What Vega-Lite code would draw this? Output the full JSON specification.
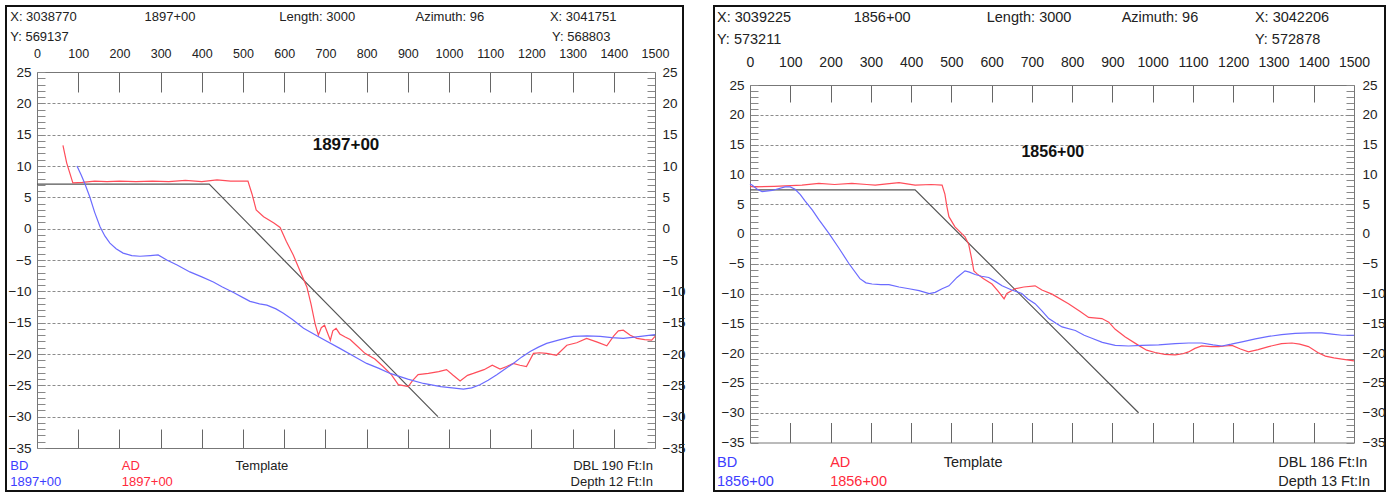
{
"$schema": "https://vega.github.io/schema/vega-lite/v6.json",
"padding": {"left": 5, "top": 5, "right": 0, "bottom": 0},
"background": "white",
"spacing": 27,
"datasets": {
"profiles": [
{"panel":"1897+00","series":"Template","x":0,"y":7.1},{"panel":"1897+00","series":"Template","x":418,"y":7.1},{"panel":"1897+00","series":"Template","x":973,"y":-30},
{"panel":"1897+00","series":"AD","x":63,"y":13.3},{"panel":"1897+00","series":"AD","x":72,"y":10.5},{"panel":"1897+00","series":"AD","x":87,"y":7.3},{"panel":"1897+00","series":"AD","x":110,"y":7.4},{"panel":"1897+00","series":"AD","x":140,"y":7.6},{"panel":"1897+00","series":"AD","x":170,"y":7.5},{"panel":"1897+00","series":"AD","x":200,"y":7.6},{"panel":"1897+00","series":"AD","x":240,"y":7.5},{"panel":"1897+00","series":"AD","x":280,"y":7.6},{"panel":"1897+00","series":"AD","x":320,"y":7.5},{"panel":"1897+00","series":"AD","x":360,"y":7.7},{"panel":"1897+00","series":"AD","x":400,"y":7.5},{"panel":"1897+00","series":"AD","x":437,"y":7.8},{"panel":"1897+00","series":"AD","x":470,"y":7.6},{"panel":"1897+00","series":"AD","x":512,"y":7.6},{"panel":"1897+00","series":"AD","x":522,"y":5.5},{"panel":"1897+00","series":"AD","x":532,"y":3.0},{"panel":"1897+00","series":"AD","x":550,"y":1.9},{"panel":"1897+00","series":"AD","x":575,"y":0.9},{"panel":"1897+00","series":"AD","x":590,"y":0.2},{"panel":"1897+00","series":"AD","x":605,"y":-2.0},{"panel":"1897+00","series":"AD","x":622,"y":-4.2},{"panel":"1897+00","series":"AD","x":640,"y":-7.0},{"panel":"1897+00","series":"AD","x":655,"y":-9.3},{"panel":"1897+00","series":"AD","x":665,"y":-12.0},{"panel":"1897+00","series":"AD","x":675,"y":-15.2},{"panel":"1897+00","series":"AD","x":683,"y":-17.0},{"panel":"1897+00","series":"AD","x":690,"y":-15.8},{"panel":"1897+00","series":"AD","x":698,"y":-15.4},{"panel":"1897+00","series":"AD","x":705,"y":-16.6},{"panel":"1897+00","series":"AD","x":712,"y":-17.8},{"panel":"1897+00","series":"AD","x":718,"y":-16.3},{"panel":"1897+00","series":"AD","x":726,"y":-15.9},{"panel":"1897+00","series":"AD","x":735,"y":-16.8},{"panel":"1897+00","series":"AD","x":748,"y":-17.3},{"panel":"1897+00","series":"AD","x":760,"y":-17.7},{"panel":"1897+00","series":"AD","x":775,"y":-18.6},{"panel":"1897+00","series":"AD","x":796,"y":-19.9},{"panel":"1897+00","series":"AD","x":820,"y":-20.8},{"panel":"1897+00","series":"AD","x":840,"y":-22.0},{"panel":"1897+00","series":"AD","x":860,"y":-23.3},{"panel":"1897+00","series":"AD","x":877,"y":-24.9},{"panel":"1897+00","series":"AD","x":901,"y":-25.2},{"panel":"1897+00","series":"AD","x":912,"y":-24.2},{"panel":"1897+00","series":"AD","x":925,"y":-23.3},{"panel":"1897+00","series":"AD","x":950,"y":-23.1},{"panel":"1897+00","series":"AD","x":975,"y":-22.8},{"panel":"1897+00","series":"AD","x":994,"y":-22.5},{"panel":"1897+00","series":"AD","x":1010,"y":-23.4},{"panel":"1897+00","series":"AD","x":1027,"y":-24.3},{"panel":"1897+00","series":"AD","x":1045,"y":-23.4},{"panel":"1897+00","series":"AD","x":1059,"y":-23.1},{"panel":"1897+00","series":"AD","x":1085,"y":-22.5},{"panel":"1897+00","series":"AD","x":1105,"y":-21.8},{"panel":"1897+00","series":"AD","x":1124,"y":-22.4},{"panel":"1897+00","series":"AD","x":1140,"y":-22.0},{"panel":"1897+00","series":"AD","x":1156,"y":-21.5},{"panel":"1897+00","series":"AD","x":1172,"y":-21.8},{"panel":"1897+00","series":"AD","x":1188,"y":-22.0},{"panel":"1897+00","series":"AD","x":1205,"y":-19.9},{"panel":"1897+00","series":"AD","x":1220,"y":-19.8},{"panel":"1897+00","series":"AD","x":1237,"y":-19.9},{"panel":"1897+00","series":"AD","x":1261,"y":-20.2},{"panel":"1897+00","series":"AD","x":1286,"y":-18.6},{"panel":"1897+00","series":"AD","x":1310,"y":-18.2},{"panel":"1897+00","series":"AD","x":1334,"y":-17.5},{"panel":"1897+00","series":"AD","x":1360,"y":-18.1},{"panel":"1897+00","series":"AD","x":1383,"y":-18.7},{"panel":"1897+00","series":"AD","x":1400,"y":-17.1},{"panel":"1897+00","series":"AD","x":1411,"y":-16.3},{"panel":"1897+00","series":"AD","x":1423,"y":-16.2},{"panel":"1897+00","series":"AD","x":1440,"y":-17.0},{"panel":"1897+00","series":"AD","x":1456,"y":-17.5},{"panel":"1897+00","series":"AD","x":1475,"y":-17.7},{"panel":"1897+00","series":"AD","x":1492,"y":-17.8},{"panel":"1897+00","series":"AD","x":1500,"y":-17.2},
{"panel":"1897+00","series":"BD","x":97,"y":10.0},{"panel":"1897+00","series":"BD","x":107,"y":8.6},{"panel":"1897+00","series":"BD","x":116,"y":7.2},{"panel":"1897+00","series":"BD","x":128,"y":5.1},{"panel":"1897+00","series":"BD","x":140,"y":2.6},{"panel":"1897+00","series":"BD","x":153,"y":0.3},{"panel":"1897+00","series":"BD","x":165,"y":-1.2},{"panel":"1897+00","series":"BD","x":177,"y":-2.3},{"panel":"1897+00","series":"BD","x":192,"y":-3.2},{"panel":"1897+00","series":"BD","x":209,"y":-3.9},{"panel":"1897+00","series":"BD","x":230,"y":-4.3},{"panel":"1897+00","series":"BD","x":250,"y":-4.4},{"panel":"1897+00","series":"BD","x":275,"y":-4.3},{"panel":"1897+00","series":"BD","x":294,"y":-4.2},{"panel":"1897+00","series":"BD","x":315,"y":-5.0},{"panel":"1897+00","series":"BD","x":340,"y":-5.8},{"panel":"1897+00","series":"BD","x":371,"y":-6.9},{"panel":"1897+00","series":"BD","x":400,"y":-7.7},{"panel":"1897+00","series":"BD","x":428,"y":-8.5},{"panel":"1897+00","series":"BD","x":450,"y":-9.3},{"panel":"1897+00","series":"BD","x":477,"y":-10.2},{"panel":"1897+00","series":"BD","x":500,"y":-11.0},{"panel":"1897+00","series":"BD","x":517,"y":-11.6},{"panel":"1897+00","series":"BD","x":540,"y":-12.0},{"panel":"1897+00","series":"BD","x":558,"y":-12.2},{"panel":"1897+00","series":"BD","x":580,"y":-12.8},{"panel":"1897+00","series":"BD","x":598,"y":-13.5},{"panel":"1897+00","series":"BD","x":620,"y":-14.5},{"panel":"1897+00","series":"BD","x":647,"y":-15.9},{"panel":"1897+00","series":"BD","x":690,"y":-17.5},{"panel":"1897+00","series":"BD","x":735,"y":-19.1},{"panel":"1897+00","series":"BD","x":770,"y":-20.4},{"panel":"1897+00","series":"BD","x":800,"y":-21.5},{"panel":"1897+00","series":"BD","x":830,"y":-22.3},{"panel":"1897+00","series":"BD","x":857,"y":-23.1},{"panel":"1897+00","series":"BD","x":900,"y":-24.0},{"panel":"1897+00","series":"BD","x":938,"y":-24.7},{"panel":"1897+00","series":"BD","x":980,"y":-25.2},{"panel":"1897+00","series":"BD","x":1035,"y":-25.6},{"panel":"1897+00","series":"BD","x":1055,"y":-25.4},{"panel":"1897+00","series":"BD","x":1075,"y":-24.9},{"panel":"1897+00","series":"BD","x":1095,"y":-24.2},{"panel":"1897+00","series":"BD","x":1116,"y":-23.3},{"panel":"1897+00","series":"BD","x":1136,"y":-22.4},{"panel":"1897+00","series":"BD","x":1156,"y":-21.5},{"panel":"1897+00","series":"BD","x":1176,"y":-20.5},{"panel":"1897+00","series":"BD","x":1197,"y":-19.6},{"panel":"1897+00","series":"BD","x":1217,"y":-18.9},{"panel":"1897+00","series":"BD","x":1237,"y":-18.3},{"panel":"1897+00","series":"BD","x":1270,"y":-17.7},{"panel":"1897+00","series":"BD","x":1302,"y":-17.2},{"panel":"1897+00","series":"BD","x":1335,"y":-17.1},{"panel":"1897+00","series":"BD","x":1367,"y":-17.2},{"panel":"1897+00","series":"BD","x":1395,"y":-17.4},{"panel":"1897+00","series":"BD","x":1423,"y":-17.5},{"panel":"1897+00","series":"BD","x":1450,"y":-17.3},{"panel":"1897+00","series":"BD","x":1475,"y":-17.1},{"panel":"1897+00","series":"BD","x":1500,"y":-16.9},
{"panel":"1856+00","series":"Template","x":0,"y":7.4},{"panel":"1856+00","series":"Template","x":410,"y":7.4},{"panel":"1856+00","series":"Template","x":965,"y":-30},
{"panel":"1856+00","series":"AD","x":0,"y":8.0},{"panel":"1856+00","series":"AD","x":10,"y":7.9},{"panel":"1856+00","series":"AD","x":60,"y":8.0},{"panel":"1856+00","series":"AD","x":129,"y":8.2},{"panel":"1856+00","series":"AD","x":171,"y":8.5},{"panel":"1856+00","series":"AD","x":210,"y":8.3},{"panel":"1856+00","series":"AD","x":253,"y":8.5},{"panel":"1856+00","series":"AD","x":290,"y":8.3},{"panel":"1856+00","series":"AD","x":311,"y":8.2},{"panel":"1856+00","series":"AD","x":340,"y":8.4},{"panel":"1856+00","series":"AD","x":370,"y":8.6},{"panel":"1856+00","series":"AD","x":410,"y":8.2},{"panel":"1856+00","series":"AD","x":450,"y":8.3},{"panel":"1856+00","series":"AD","x":477,"y":8.2},{"panel":"1856+00","series":"AD","x":484,"y":6.7},{"panel":"1856+00","series":"AD","x":489,"y":4.6},{"panel":"1856+00","series":"AD","x":494,"y":2.9},{"panel":"1856+00","series":"AD","x":509,"y":1.2},{"panel":"1856+00","series":"AD","x":534,"y":-0.5},{"panel":"1856+00","series":"AD","x":543,"y":-1.7},{"panel":"1856+00","series":"AD","x":550,"y":-4.0},{"panel":"1856+00","series":"AD","x":556,"y":-6.2},{"panel":"1856+00","series":"AD","x":564,"y":-6.7},{"panel":"1856+00","series":"AD","x":580,"y":-7.5},{"panel":"1856+00","series":"AD","x":601,"y":-8.4},{"panel":"1856+00","series":"AD","x":615,"y":-9.5},{"panel":"1856+00","series":"AD","x":631,"y":-10.9},{"panel":"1856+00","series":"AD","x":638,"y":-10.0},{"panel":"1856+00","series":"AD","x":658,"y":-9.2},{"panel":"1856+00","series":"AD","x":680,"y":-8.9},{"panel":"1856+00","series":"AD","x":708,"y":-8.7},{"panel":"1856+00","series":"AD","x":725,"y":-9.4},{"panel":"1856+00","series":"AD","x":750,"y":-10.1},{"panel":"1856+00","series":"AD","x":791,"y":-11.7},{"panel":"1856+00","series":"AD","x":820,"y":-13.0},{"panel":"1856+00","series":"AD","x":841,"y":-14.0},{"panel":"1856+00","series":"AD","x":874,"y":-14.2},{"panel":"1856+00","series":"AD","x":891,"y":-14.8},{"panel":"1856+00","series":"AD","x":907,"y":-16.0},{"panel":"1856+00","series":"AD","x":932,"y":-17.3},{"panel":"1856+00","series":"AD","x":965,"y":-18.7},{"panel":"1856+00","series":"AD","x":985,"y":-19.5},{"panel":"1856+00","series":"AD","x":1006,"y":-19.9},{"panel":"1856+00","series":"AD","x":1030,"y":-20.2},{"panel":"1856+00","series":"AD","x":1056,"y":-20.3},{"panel":"1856+00","series":"AD","x":1075,"y":-20.1},{"panel":"1856+00","series":"AD","x":1089,"y":-19.8},{"panel":"1856+00","series":"AD","x":1105,"y":-19.2},{"panel":"1856+00","series":"AD","x":1122,"y":-18.8},{"panel":"1856+00","series":"AD","x":1145,"y":-18.9},{"panel":"1856+00","series":"AD","x":1164,"y":-18.9},{"panel":"1856+00","series":"AD","x":1180,"y":-18.8},{"panel":"1856+00","series":"AD","x":1197,"y":-18.7},{"panel":"1856+00","series":"AD","x":1218,"y":-19.3},{"panel":"1856+00","series":"AD","x":1238,"y":-19.8},{"panel":"1856+00","series":"AD","x":1262,"y":-19.4},{"panel":"1856+00","series":"AD","x":1288,"y":-18.9},{"panel":"1856+00","series":"AD","x":1320,"y":-18.4},{"panel":"1856+00","series":"AD","x":1346,"y":-18.3},{"panel":"1856+00","series":"AD","x":1365,"y":-18.5},{"panel":"1856+00","series":"AD","x":1387,"y":-18.9},{"panel":"1856+00","series":"AD","x":1410,"y":-19.9},{"panel":"1856+00","series":"AD","x":1429,"y":-20.5},{"panel":"1856+00","series":"AD","x":1450,"y":-20.8},{"panel":"1856+00","series":"AD","x":1470,"y":-21.0},{"panel":"1856+00","series":"AD","x":1500,"y":-21.3},
{"panel":"1856+00","series":"BD","x":0,"y":8.4},{"panel":"1856+00","series":"BD","x":5,"y":8.2},{"panel":"1856+00","series":"BD","x":18,"y":7.5},{"panel":"1856+00","series":"BD","x":30,"y":7.1},{"panel":"1856+00","series":"BD","x":55,"y":7.3},{"panel":"1856+00","series":"BD","x":87,"y":7.9},{"panel":"1856+00","series":"BD","x":100,"y":7.9},{"panel":"1856+00","series":"BD","x":112,"y":7.5},{"panel":"1856+00","series":"BD","x":125,"y":6.6},{"panel":"1856+00","series":"BD","x":137,"y":5.5},{"panel":"1856+00","series":"BD","x":155,"y":4.0},{"panel":"1856+00","series":"BD","x":171,"y":2.4},{"panel":"1856+00","series":"BD","x":196,"y":0.1},{"panel":"1856+00","series":"BD","x":221,"y":-2.4},{"panel":"1856+00","series":"BD","x":246,"y":-5.0},{"panel":"1856+00","series":"BD","x":273,"y":-7.5},{"panel":"1856+00","series":"BD","x":288,"y":-8.2},{"panel":"1856+00","series":"BD","x":303,"y":-8.4},{"panel":"1856+00","series":"BD","x":325,"y":-8.5},{"panel":"1856+00","series":"BD","x":345,"y":-8.5},{"panel":"1856+00","series":"BD","x":370,"y":-8.9},{"panel":"1856+00","series":"BD","x":395,"y":-9.2},{"panel":"1856+00","series":"BD","x":420,"y":-9.5},{"panel":"1856+00","series":"BD","x":445,"y":-10.0},{"panel":"1856+00","series":"BD","x":460,"y":-9.8},{"panel":"1856+00","series":"BD","x":477,"y":-9.2},{"panel":"1856+00","series":"BD","x":494,"y":-8.7},{"panel":"1856+00","series":"BD","x":514,"y":-7.3},{"panel":"1856+00","series":"BD","x":534,"y":-6.2},{"panel":"1856+00","series":"BD","x":545,"y":-6.4},{"panel":"1856+00","series":"BD","x":559,"y":-6.8},{"panel":"1856+00","series":"BD","x":575,"y":-7.1},{"panel":"1856+00","series":"BD","x":593,"y":-7.3},{"panel":"1856+00","series":"BD","x":610,"y":-8.0},{"panel":"1856+00","series":"BD","x":626,"y":-8.7},{"panel":"1856+00","series":"BD","x":650,"y":-9.4},{"panel":"1856+00","series":"BD","x":675,"y":-10.0},{"panel":"1856+00","series":"BD","x":690,"y":-10.9},{"panel":"1856+00","series":"BD","x":708,"y":-11.7},{"panel":"1856+00","series":"BD","x":725,"y":-12.9},{"panel":"1856+00","series":"BD","x":742,"y":-14.2},{"panel":"1856+00","series":"BD","x":760,"y":-15.0},{"panel":"1856+00","series":"BD","x":775,"y":-15.6},{"panel":"1856+00","series":"BD","x":808,"y":-16.2},{"panel":"1856+00","series":"BD","x":830,"y":-17.0},{"panel":"1856+00","series":"BD","x":849,"y":-17.5},{"panel":"1856+00","series":"BD","x":875,"y":-18.2},{"panel":"1856+00","series":"BD","x":907,"y":-18.7},{"panel":"1856+00","series":"BD","x":940,"y":-18.8},{"panel":"1856+00","series":"BD","x":973,"y":-18.7},{"panel":"1856+00","series":"BD","x":1015,"y":-18.6},{"panel":"1856+00","series":"BD","x":1056,"y":-18.4},{"panel":"1856+00","series":"BD","x":1090,"y":-18.3},{"panel":"1856+00","series":"BD","x":1122,"y":-18.3},{"panel":"1856+00","series":"BD","x":1150,"y":-18.6},{"panel":"1856+00","series":"BD","x":1172,"y":-18.8},{"panel":"1856+00","series":"BD","x":1195,"y":-18.5},{"panel":"1856+00","series":"BD","x":1222,"y":-18.1},{"panel":"1856+00","series":"BD","x":1255,"y":-17.6},{"panel":"1856+00","series":"BD","x":1288,"y":-17.2},{"panel":"1856+00","series":"BD","x":1320,"y":-16.9},{"panel":"1856+00","series":"BD","x":1354,"y":-16.7},{"panel":"1856+00","series":"BD","x":1390,"y":-16.6},{"panel":"1856+00","series":"BD","x":1420,"y":-16.6},{"panel":"1856+00","series":"BD","x":1445,"y":-16.8},{"panel":"1856+00","series":"BD","x":1470,"y":-17.0},{"panel":"1856+00","series":"BD","x":1500,"y":-17.0}
],
"labels": [
{"panel":"1897+00","group":"left","text":"X: 3038770","x":-65,"y":33.8},
{"panel":"1897+00","group":"left","text":"Y: 569137","x":-65,"y":30.6},
{"panel":"1897+00","group":"left","text":"X: 3041751","x":1245,"y":33.8},
{"panel":"1897+00","group":"left","text":"Y: 568803","x":1250,"y":30.6},
{"panel":"1897+00","group":"center","text":"1897+00","x":323,"y":33.8},
{"panel":"1897+00","group":"center","text":"Length: 3000","x":680,"y":33.8},
{"panel":"1897+00","group":"center","text":"Azimuth: 96","x":1002,"y":33.8},
{"panel":"1897+00","group":"center","text":"Template","x":546,"y":-37.8},
{"panel":"1897+00","group":"title","text":"1897+00","x":750,"y":13.35},
{"panel":"1897+00","group":"bd","text":"BD","x":-65,"y":-37.8},
{"panel":"1897+00","group":"bd","text":"1897+00","x":-65,"y":-40.4},
{"panel":"1897+00","group":"ad","text":"AD","x":206,"y":-37.8},
{"panel":"1897+00","group":"ad","text":"1897+00","x":206,"y":-40.4},
{"panel":"1897+00","group":"right","text":"DBL 190 Ft:In","x":1495,"y":-37.8},
{"panel":"1897+00","group":"right","text":"Depth 12 Ft:In","x":1495,"y":-40.4},
{"panel":"1856+00","group":"left","text":"X: 3039225","x":-82,"y":36.26},
{"panel":"1856+00","group":"left","text":"Y: 573211","x":-82,"y":32.56},
{"panel":"1856+00","group":"left","text":"X: 3042206","x":1254,"y":36.26},
{"panel":"1856+00","group":"left","text":"Y: 572878","x":1254,"y":32.56},
{"panel":"1856+00","group":"center","text":"1856+00","x":328,"y":36.26},
{"panel":"1856+00","group":"center","text":"Length: 3000","x":693,"y":36.26},
{"panel":"1856+00","group":"center","text":"Azimuth: 96","x":1018,"y":36.26},
{"panel":"1856+00","group":"center","text":"Template","x":554,"y":-38.36},
{"panel":"1856+00","group":"title","text":"1856+00","x":752,"y":13.74},
{"panel":"1856+00","group":"bd","text":"BD","x":-82,"y":-38.36},
{"panel":"1856+00","group":"bd","text":"1856+00","x":-82,"y":-41.55},
{"panel":"1856+00","group":"ad","text":"AD","x":199,"y":-38.36},
{"panel":"1856+00","group":"ad","text":"1856+00","x":199,"y":-41.55},
{"panel":"1856+00","group":"right","text":"DBL 186 Ft:In","x":1533,"y":-38.36},
{"panel":"1856+00","group":"right","text":"Depth 13 Ft:In","x":1540,"y":-41.55}
]
},
"hconcat": [
{
"width": 677, "height": 485,
"resolve": {"axis": {"x": "independent", "y": "independent"}},
"layer": [
{"data": {"name": "profiles"}, "transform": [{"filter": "datum.panel == '1897+00'"}],
 "mark": {"type": "line", "strokeWidth": 1.2},
 "encoding": {
  "x": {"field": "x", "type": "quantitative", "scale": {"domain": [0, 1500], "range": [31, 649], "nice": false, "zero": false},
        "axis": {"orient": "top", "offset": -66, "values": [0,100,200,300,400,500,600,700,800,900,1000,1100,1200,1300,1400,1500], "format": "d", "ticks": false, "tickSize": 0, "domain": false, "grid": false, "labelPadding": 19, "labelBaseline": "middle", "labelFont": "Liberation Sans Narrow, Liberation Sans", "labelFontSize": 12.5, "title": null}},
  "y": {"field": "y", "type": "quantitative", "scale": {"domain": [-35, 25], "range": [442, 66], "nice": false, "zero": false},
        "axis": {"orient": "left", "offset": -31, "values": [-35,-30,-25,-20,-15,-10,-5,0,5,10,15,20,25], "ticks": false, "tickSize": 0, "domain": false, "grid": false, "labelPadding": 6, "title": null}},
  "color": {"field": "series", "type": "nominal", "scale": {"domain": ["Template", "BD", "AD"], "range": ["#555555", "#6b6bff", "#ff4d5a"]}, "legend": null}
 }},
{"data": {"name": "labels"}, "transform": [{"filter": "datum.panel == '1897+00' && datum.group == 'left'"}],
 "mark": {"type": "text", "align": "left", "baseline": "middle", "font": "Liberation Sans", "fontSize": 13, "color": "#222222"},
 "encoding": {
  "x": {"field": "x", "type": "quantitative", "scale": {"domain": [0, 1500], "range": [31, 649], "nice": false, "zero": false},
        "axis": {"orient": "top", "offset": -66, "values": [100,200,300,400,500,600,700,800,900,1000,1100,1200,1300,1400], "labels": false, "ticks": true, "tickSize": -20, "domain": true, "grid": false, "title": null}},
  "y": {"field": "y", "type": "quantitative", "scale": {"domain": [-35, 25], "range": [442, 66], "nice": false, "zero": false},
        "axis": {"orient": "left", "offset": -31, "values": [-35,-34,-33,-32,-31,-30,-29,-28,-27,-26,-25,-24,-23,-22,-21,-20,-19,-18,-17,-16,-15,-14,-13,-12,-11,-10,-9,-8,-7,-6,-5,-4,-3,-2,-1,0,1,2,3,4,5,6,7,8,9,10,11,12,13,14,15,16,17,18,19,20,21,22,23,24,25], "labels": false, "ticks": true, "tickSize": -8, "tickColor": "#888888", "domain": true, "grid": false, "title": null}},
  "text": {"field": "text"}
 }},
{"data": {"name": "labels"}, "transform": [{"filter": "datum.panel == '1897+00' && datum.group == 'center'"}],
 "mark": {"type": "text", "align": "center", "baseline": "middle", "font": "Liberation Sans", "fontSize": 13, "color": "#222222"},
 "encoding": {
  "x": {"field": "x", "type": "quantitative", "scale": {"domain": [0, 1500], "range": [31, 649], "nice": false, "zero": false},
        "axis": {"orient": "bottom", "offset": -43, "values": [100,200,300,400,500,600,700,800,900,1000,1100,1200,1300,1400], "labels": false, "ticks": true, "tickSize": -19, "domain": true, "grid": false, "title": null}},
  "y": {"field": "y", "type": "quantitative", "scale": {"domain": [-35, 25], "range": [442, 66], "nice": false, "zero": false},
        "axis": {"orient": "right", "offset": -28, "values": [-35,-30,-25,-20,-15,-10,-5,0,5,10,15,20,25], "ticks": false, "tickSize": 0, "domain": false, "grid": false, "labelPadding": 7, "title": null}},
  "text": {"field": "text"}
 }},
{"data": {"name": "labels"}, "transform": [{"filter": "datum.panel == '1897+00' && datum.group == 'title'"}],
 "mark": {"type": "text", "align": "center", "baseline": "middle", "font": "Liberation Sans", "fontSize": 17, "fontWeight": "bold", "color": "#111111"},
 "encoding": {
  "x": {"field": "x", "type": "quantitative", "scale": {"domain": [0, 1500], "range": [31, 649], "nice": false, "zero": false}, "axis": null},
  "y": {"field": "y", "type": "quantitative", "scale": {"domain": [-35, 25], "range": [442, 66], "nice": false, "zero": false},
        "axis": {"orient": "right", "offset": -28, "values": [-35,-34,-33,-32,-31,-30,-29,-28,-27,-26,-25,-24,-23,-22,-21,-20,-19,-18,-17,-16,-15,-14,-13,-12,-11,-10,-9,-8,-7,-6,-5,-4,-3,-2,-1,0,1,2,3,4,5,6,7,8,9,10,11,12,13,14,15,16,17,18,19,20,21,22,23,24,25], "labels": false, "ticks": true, "tickSize": -8, "tickColor": "#888888", "domain": true, "grid": false, "title": null}},
  "text": {"field": "text"}
 }},
{"data": {"name": "labels"}, "transform": [{"filter": "datum.panel == '1897+00' && datum.group == 'bd'"}],
 "mark": {"type": "text", "align": "left", "baseline": "middle", "font": "Liberation Sans", "fontSize": 13, "color": "#3d3dff"},
 "encoding": {
  "x": {"field": "x", "type": "quantitative", "scale": {"domain": [0, 1500], "range": [31, 649], "nice": false, "zero": false}, "axis": null},
  "y": {"field": "y", "type": "quantitative", "scale": {"domain": [-35, 25], "range": [442, 66], "nice": false, "zero": false},
        "axis": {"orient": "left", "offset": 0, "values": [-30,-25,-20,-15,-10,-5,0,5,10,15,20], "labels": false, "ticks": false, "domain": false, "grid": true, "title": null}},
  "text": {"field": "text"}
 }},
{"data": {"name": "labels"}, "transform": [{"filter": "datum.panel == '1897+00' && datum.group == 'ad'"}],
 "mark": {"type": "text", "align": "left", "baseline": "middle", "font": "Liberation Sans", "fontSize": 13, "color": "#ff2a3c"},
 "encoding": {
  "x": {"field": "x", "type": "quantitative", "scale": {"domain": [0, 1500], "range": [31, 649], "nice": false, "zero": false}, "axis": null},
  "y": {"field": "y", "type": "quantitative", "scale": {"domain": [-35, 25], "range": [442, 66], "nice": false, "zero": false}, "axis": null},
  "text": {"field": "text"}
 }},
{"data": {"name": "labels"}, "transform": [{"filter": "datum.panel == '1897+00' && datum.group == 'right'"}],
 "mark": {"type": "text", "align": "right", "baseline": "middle", "font": "Liberation Sans", "fontSize": 13, "color": "#222222"},
 "encoding": {
  "x": {"field": "x", "type": "quantitative", "scale": {"domain": [0, 1500], "range": [31, 649], "nice": false, "zero": false}, "axis": null},
  "y": {"field": "y", "type": "quantitative", "scale": {"domain": [-35, 25], "range": [442, 66], "nice": false, "zero": false}, "axis": null},
  "text": {"field": "text"}
 }}
]
},
{
"width": 671, "height": 485,
"resolve": {"axis": {"x": "independent", "y": "independent"}},
"layer": [
{"data": {"name": "profiles"}, "transform": [{"filter": "datum.panel == '1856+00'"}],
 "mark": {"type": "line", "strokeWidth": 1.2},
 "encoding": {
  "x": {"field": "x", "type": "quantitative", "scale": {"domain": [0, 1500], "range": [36, 640], "nice": false, "zero": false},
        "axis": {"orient": "top", "offset": -79, "values": [0,100,200,300,400,500,600,700,800,900,1000,1100,1200,1300,1400,1500], "format": "d", "ticks": false, "tickSize": 0, "domain": false, "grid": false, "labelPadding": 23, "labelBaseline": "middle", "labelFont": "Liberation Sans Narrow, Liberation Sans", "labelFontSize": 14, "title": null}},
  "y": {"field": "y", "type": "quantitative", "scale": {"domain": [-35, 25], "range": [436.5, 79], "nice": false, "zero": false},
        "axis": {"orient": "left", "offset": -36, "values": [-35,-30,-25,-20,-15,-10,-5,0,5,10,15,20,25], "ticks": false, "tickSize": 0, "domain": false, "grid": false, "labelPadding": 6, "title": null}},
  "color": {"field": "series", "type": "nominal", "scale": {"domain": ["Template", "BD", "AD"], "range": ["#555555", "#6b6bff", "#ff4d5a"]}, "legend": null}
 }},
{"data": {"name": "labels"}, "transform": [{"filter": "datum.panel == '1856+00' && datum.group == 'left'"}],
 "mark": {"type": "text", "align": "left", "baseline": "middle", "font": "Liberation Sans", "fontSize": 14.5, "color": "#222222"},
 "encoding": {
  "x": {"field": "x", "type": "quantitative", "scale": {"domain": [0, 1500], "range": [36, 640], "nice": false, "zero": false},
        "axis": {"orient": "top", "offset": -79, "values": [100,200,300,400,500,600,700,800,900,1000,1100,1200,1300,1400], "labels": false, "ticks": true, "tickSize": -17, "domain": true, "grid": false, "title": null}},
  "y": {"field": "y", "type": "quantitative", "scale": {"domain": [-35, 25], "range": [436.5, 79], "nice": false, "zero": false},
        "axis": {"orient": "left", "offset": -36, "values": [-35,-34,-33,-32,-31,-30,-29,-28,-27,-26,-25,-24,-23,-22,-21,-20,-19,-18,-17,-16,-15,-14,-13,-12,-11,-10,-9,-8,-7,-6,-5,-4,-3,-2,-1,0,1,2,3,4,5,6,7,8,9,10,11,12,13,14,15,16,17,18,19,20,21,22,23,24,25], "labels": false, "ticks": true, "tickSize": -8, "tickColor": "#888888", "domain": true, "grid": false, "title": null}},
  "text": {"field": "text"}
 }},
{"data": {"name": "labels"}, "transform": [{"filter": "datum.panel == '1856+00' && datum.group == 'center'"}],
 "mark": {"type": "text", "align": "center", "baseline": "middle", "font": "Liberation Sans", "fontSize": 14.5, "color": "#222222"},
 "encoding": {
  "x": {"field": "x", "type": "quantitative", "scale": {"domain": [0, 1500], "range": [36, 640], "nice": false, "zero": false},
        "axis": {"orient": "bottom", "offset": -48.5, "values": [100,200,300,400,500,600,700,800,900,1000,1100,1200,1300,1400], "labels": false, "ticks": true, "tickSize": -20, "domain": true, "grid": false, "title": null}},
  "y": {"field": "y", "type": "quantitative", "scale": {"domain": [-35, 25], "range": [436.5, 79], "nice": false, "zero": false},
        "axis": {"orient": "right", "offset": -31, "values": [-35,-30,-25,-20,-15,-10,-5,0,5,10,15,20,25], "ticks": false, "tickSize": 0, "domain": false, "grid": false, "labelPadding": 8, "title": null}},
  "text": {"field": "text"}
 }},
{"data": {"name": "labels"}, "transform": [{"filter": "datum.panel == '1856+00' && datum.group == 'title'"}],
 "mark": {"type": "text", "align": "center", "baseline": "middle", "font": "Liberation Sans", "fontSize": 16, "fontWeight": "bold", "color": "#111111"},
 "encoding": {
  "x": {"field": "x", "type": "quantitative", "scale": {"domain": [0, 1500], "range": [36, 640], "nice": false, "zero": false}, "axis": null},
  "y": {"field": "y", "type": "quantitative", "scale": {"domain": [-35, 25], "range": [436.5, 79], "nice": false, "zero": false},
        "axis": {"orient": "right", "offset": -31, "values": [-35,-34,-33,-32,-31,-30,-29,-28,-27,-26,-25,-24,-23,-22,-21,-20,-19,-18,-17,-16,-15,-14,-13,-12,-11,-10,-9,-8,-7,-6,-5,-4,-3,-2,-1,0,1,2,3,4,5,6,7,8,9,10,11,12,13,14,15,16,17,18,19,20,21,22,23,24,25], "labels": false, "ticks": true, "tickSize": -8, "tickColor": "#888888", "domain": true, "grid": false, "title": null}},
  "text": {"field": "text"}
 }},
{"data": {"name": "labels"}, "transform": [{"filter": "datum.panel == '1856+00' && datum.group == 'bd'"}],
 "mark": {"type": "text", "align": "left", "baseline": "middle", "font": "Liberation Sans", "fontSize": 14.5, "color": "#3d3dff"},
 "encoding": {
  "x": {"field": "x", "type": "quantitative", "scale": {"domain": [0, 1500], "range": [36, 640], "nice": false, "zero": false}, "axis": null},
  "y": {"field": "y", "type": "quantitative", "scale": {"domain": [-35, 25], "range": [436.5, 79], "nice": false, "zero": false},
        "axis": {"orient": "left", "offset": 0, "values": [-30,-25,-20,-15,-10,-5,0,5,10,15,20], "labels": false, "ticks": false, "domain": false, "grid": true, "title": null}},
  "text": {"field": "text"}
 }},
{"data": {"name": "labels"}, "transform": [{"filter": "datum.panel == '1856+00' && datum.group == 'ad'"}],
 "mark": {"type": "text", "align": "left", "baseline": "middle", "font": "Liberation Sans", "fontSize": 14.5, "color": "#ff2a3c"},
 "encoding": {
  "x": {"field": "x", "type": "quantitative", "scale": {"domain": [0, 1500], "range": [36, 640], "nice": false, "zero": false}, "axis": null},
  "y": {"field": "y", "type": "quantitative", "scale": {"domain": [-35, 25], "range": [436.5, 79], "nice": false, "zero": false}, "axis": null},
  "text": {"field": "text"}
 }},
{"data": {"name": "labels"}, "transform": [{"filter": "datum.panel == '1856+00' && datum.group == 'right'"}],
 "mark": {"type": "text", "align": "right", "baseline": "middle", "font": "Liberation Sans", "fontSize": 14.5, "color": "#222222"},
 "encoding": {
  "x": {"field": "x", "type": "quantitative", "scale": {"domain": [0, 1500], "range": [36, 640], "nice": false, "zero": false}, "axis": null},
  "y": {"field": "y", "type": "quantitative", "scale": {"domain": [-35, 25], "range": [436.5, 79], "nice": false, "zero": false}, "axis": null},
  "text": {"field": "text"}
 }}
]
}
],
"config": {
 "view": {"stroke": "#111111", "strokeWidth": 2},
 "axis": {"labelFlush": false, "labelOverlap": false, "labelBound": false, "labelColor": "#222222", "labelFont": "Liberation Sans", "labelFontSize": 13.5, "tickColor": "#666666", "tickWidth": 1, "domainColor": "#777777", "domainWidth": 1, "gridColor": "#8c8c8c", "gridDash": [3, 2], "gridWidth": 1}
}
}
